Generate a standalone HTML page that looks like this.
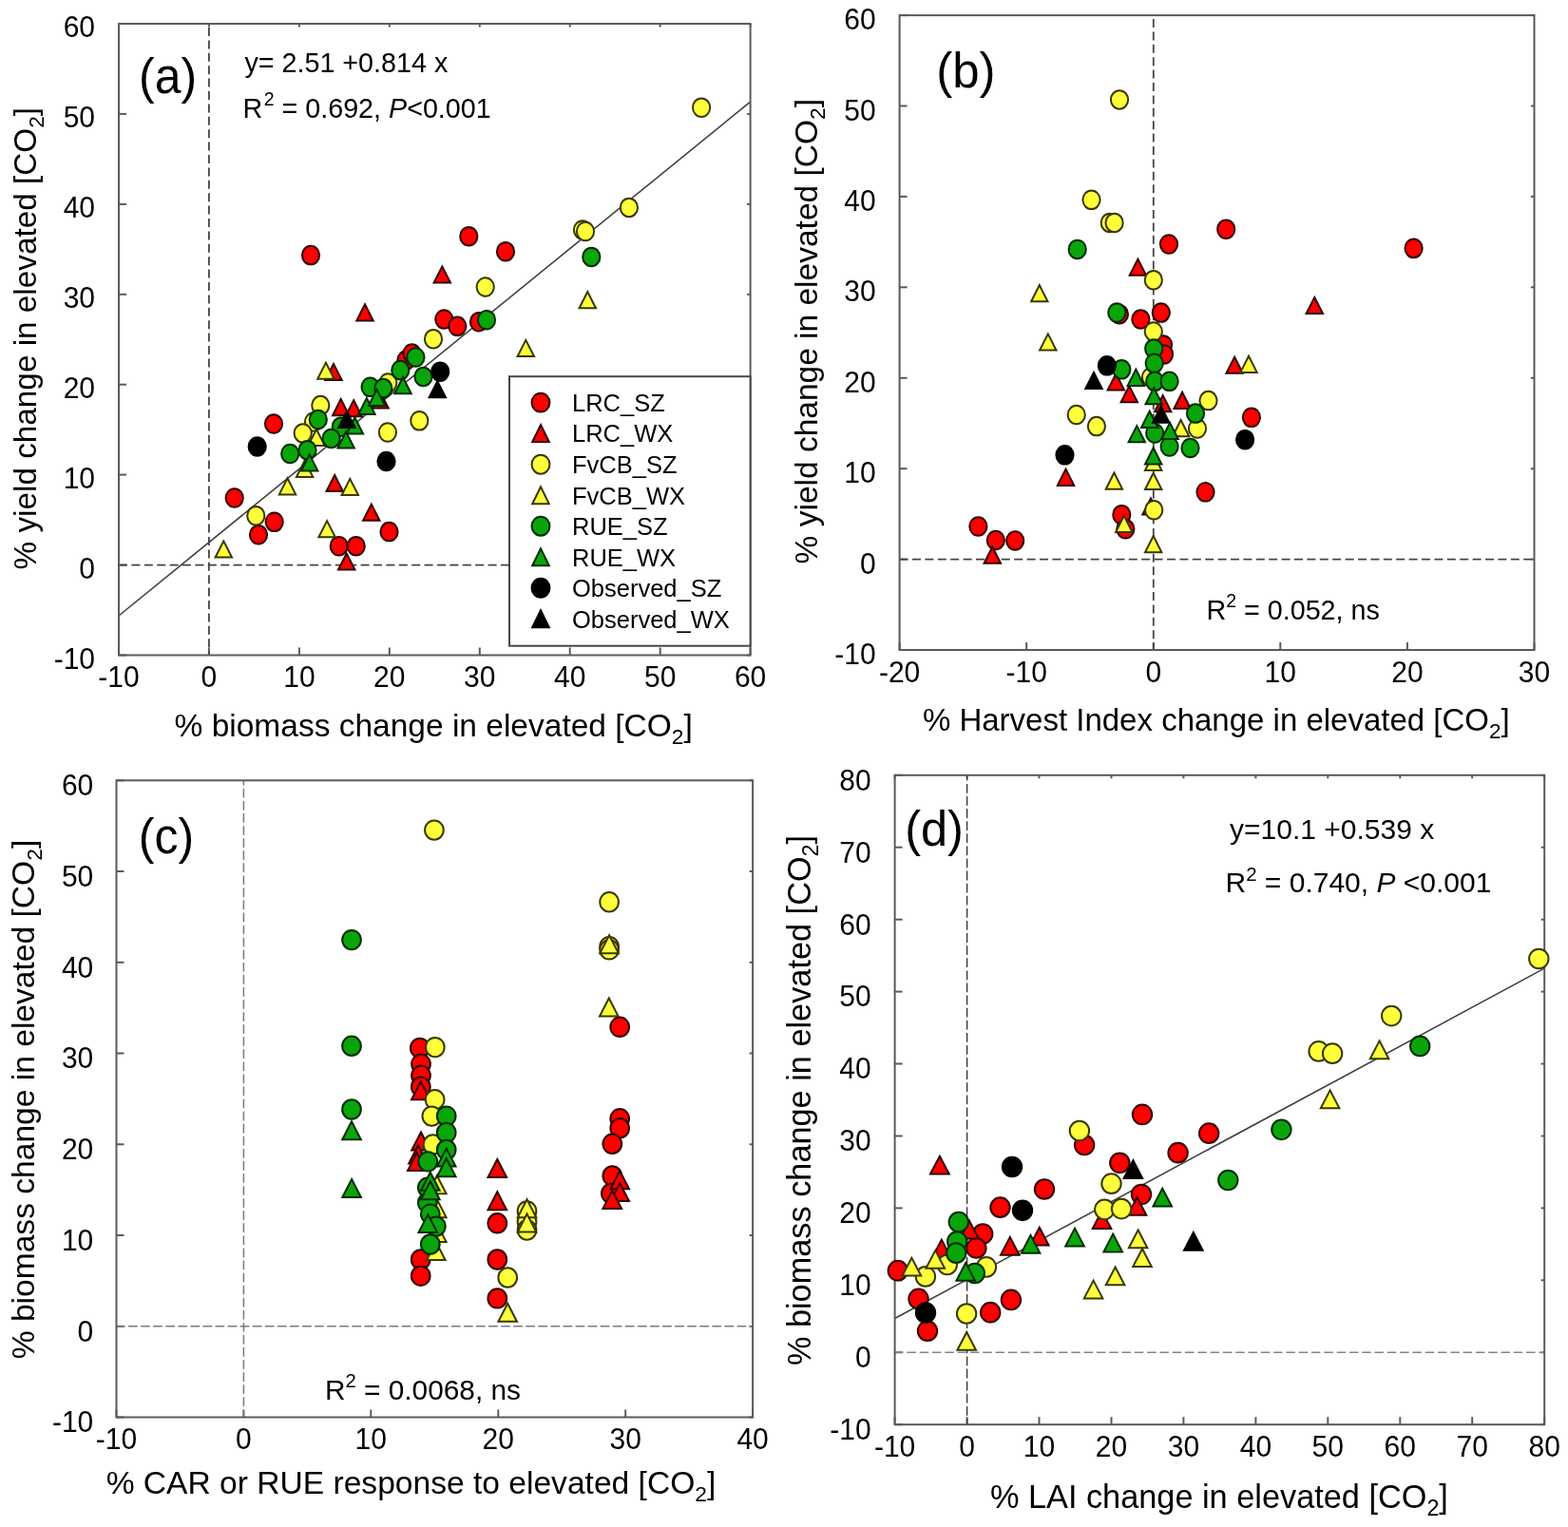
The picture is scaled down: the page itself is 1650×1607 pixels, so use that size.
<!DOCTYPE html>
<html><head><meta charset="utf-8"><title>Figure</title>
<style>
html,body{margin:0;padding:0;background:#fff;}
svg{display:block;}
text{font-family:"Liberation Sans",Arial,sans-serif;fill:#000;}
.tk{font-size:30px;}
.ti{font-size:33px;}
.sub{font-size:0.68em;}
.sup{font-size:0.68em;}
.an{font-size:28.7px;}
.an2{font-size:30.0px;}
.lg{font-size:25.5px;}
.pl{font-size:50px;}
.fr{stroke:#5a5a5a;stroke-width:2;}
.ds{stroke:#444;stroke-width:1.8;stroke-dasharray:9 4.4;}
.rg{stroke:#404040;stroke-width:1.6;}
</style></head><body>
<svg width="1650" height="1607" viewBox="0 0 1650 1607">
<rect width="1650" height="1607" fill="#fff"/>
<line x1="125.0" y1="689.5" x2="125.0" y2="681.5" class="fr"/>
<line x1="125.0" y1="25.0" x2="125.0" y2="28.5" class="fr"/>
<text transform="translate(125.0,723.0) scale(1,1.075)" class="tk" text-anchor="middle">-10</text>
<line x1="219.9" y1="689.5" x2="219.9" y2="681.5" class="fr"/>
<line x1="219.9" y1="25.0" x2="219.9" y2="28.5" class="fr"/>
<text transform="translate(219.9,723.0) scale(1,1.075)" class="tk" text-anchor="middle">0</text>
<line x1="314.9" y1="689.5" x2="314.9" y2="681.5" class="fr"/>
<line x1="314.9" y1="25.0" x2="314.9" y2="28.5" class="fr"/>
<text transform="translate(314.9,723.0) scale(1,1.075)" class="tk" text-anchor="middle">10</text>
<line x1="409.8" y1="689.5" x2="409.8" y2="681.5" class="fr"/>
<line x1="409.8" y1="25.0" x2="409.8" y2="28.5" class="fr"/>
<text transform="translate(409.8,723.0) scale(1,1.075)" class="tk" text-anchor="middle">20</text>
<line x1="504.8" y1="689.5" x2="504.8" y2="681.5" class="fr"/>
<line x1="504.8" y1="25.0" x2="504.8" y2="28.5" class="fr"/>
<text transform="translate(504.8,723.0) scale(1,1.075)" class="tk" text-anchor="middle">30</text>
<line x1="599.7" y1="689.5" x2="599.7" y2="681.5" class="fr"/>
<line x1="599.7" y1="25.0" x2="599.7" y2="28.5" class="fr"/>
<text transform="translate(599.7,723.0) scale(1,1.075)" class="tk" text-anchor="middle">40</text>
<line x1="694.7" y1="689.5" x2="694.7" y2="681.5" class="fr"/>
<line x1="694.7" y1="25.0" x2="694.7" y2="28.5" class="fr"/>
<text transform="translate(694.7,723.0) scale(1,1.075)" class="tk" text-anchor="middle">50</text>
<line x1="789.6" y1="689.5" x2="789.6" y2="681.5" class="fr"/>
<line x1="789.6" y1="25.0" x2="789.6" y2="28.5" class="fr"/>
<text transform="translate(789.6,723.0) scale(1,1.075)" class="tk" text-anchor="middle">60</text>
<line x1="125.0" y1="689.5" x2="133.0" y2="689.5" class="fr"/>
<line x1="789.6" y1="689.5" x2="786.1" y2="689.5" class="fr"/>
<text transform="translate(100.0,703.8) scale(1,1.075)" class="tk" text-anchor="end">-10</text>
<line x1="125.0" y1="594.6" x2="133.0" y2="594.6" class="fr"/>
<line x1="789.6" y1="594.6" x2="786.1" y2="594.6" class="fr"/>
<text transform="translate(100.0,608.9) scale(1,1.075)" class="tk" text-anchor="end">0</text>
<line x1="125.0" y1="499.6" x2="133.0" y2="499.6" class="fr"/>
<line x1="789.6" y1="499.6" x2="786.1" y2="499.6" class="fr"/>
<text transform="translate(100.0,513.9) scale(1,1.075)" class="tk" text-anchor="end">10</text>
<line x1="125.0" y1="404.7" x2="133.0" y2="404.7" class="fr"/>
<line x1="789.6" y1="404.7" x2="786.1" y2="404.7" class="fr"/>
<text transform="translate(100.0,419.0) scale(1,1.075)" class="tk" text-anchor="end">20</text>
<line x1="125.0" y1="309.8" x2="133.0" y2="309.8" class="fr"/>
<line x1="789.6" y1="309.8" x2="786.1" y2="309.8" class="fr"/>
<text transform="translate(100.0,324.1) scale(1,1.075)" class="tk" text-anchor="end">30</text>
<line x1="125.0" y1="214.9" x2="133.0" y2="214.9" class="fr"/>
<line x1="789.6" y1="214.9" x2="786.1" y2="214.9" class="fr"/>
<text transform="translate(100.0,229.2) scale(1,1.075)" class="tk" text-anchor="end">40</text>
<line x1="125.0" y1="119.9" x2="133.0" y2="119.9" class="fr"/>
<line x1="789.6" y1="119.9" x2="786.1" y2="119.9" class="fr"/>
<text transform="translate(100.0,134.2) scale(1,1.075)" class="tk" text-anchor="end">50</text>
<line x1="125.0" y1="25.0" x2="133.0" y2="25.0" class="fr"/>
<line x1="789.6" y1="25.0" x2="786.1" y2="25.0" class="fr"/>
<text transform="translate(100.0,39.3) scale(1,1.075)" class="tk" text-anchor="end">60</text>
<line x1="946.6" y1="684.0" x2="946.6" y2="676.0" class="fr"/>
<text transform="translate(946.6,717.5) scale(1,1.075)" class="tk" text-anchor="middle">-20</text>
<line x1="1080.2" y1="684.0" x2="1080.2" y2="676.0" class="fr"/>
<text transform="translate(1080.2,717.5) scale(1,1.075)" class="tk" text-anchor="middle">-10</text>
<line x1="1213.8" y1="684.0" x2="1213.8" y2="676.0" class="fr"/>
<text transform="translate(1213.8,717.5) scale(1,1.075)" class="tk" text-anchor="middle">0</text>
<line x1="1347.3" y1="684.0" x2="1347.3" y2="676.0" class="fr"/>
<text transform="translate(1347.3,717.5) scale(1,1.075)" class="tk" text-anchor="middle">10</text>
<line x1="1480.9" y1="684.0" x2="1480.9" y2="676.0" class="fr"/>
<text transform="translate(1480.9,717.5) scale(1,1.075)" class="tk" text-anchor="middle">20</text>
<line x1="1614.5" y1="684.0" x2="1614.5" y2="676.0" class="fr"/>
<text transform="translate(1614.5,717.5) scale(1,1.075)" class="tk" text-anchor="middle">30</text>
<line x1="946.6" y1="684.0" x2="954.6" y2="684.0" class="fr"/>
<line x1="1614.5" y1="684.0" x2="1611.0" y2="684.0" class="fr"/>
<text transform="translate(921.6,699.0) scale(1,1.075)" class="tk" text-anchor="end">-10</text>
<line x1="946.6" y1="588.6" x2="954.6" y2="588.6" class="fr"/>
<line x1="1614.5" y1="588.6" x2="1611.0" y2="588.6" class="fr"/>
<text transform="translate(921.6,603.6) scale(1,1.075)" class="tk" text-anchor="end">0</text>
<line x1="946.6" y1="493.2" x2="954.6" y2="493.2" class="fr"/>
<line x1="1614.5" y1="493.2" x2="1611.0" y2="493.2" class="fr"/>
<text transform="translate(921.6,508.2) scale(1,1.075)" class="tk" text-anchor="end">10</text>
<line x1="946.6" y1="397.8" x2="954.6" y2="397.8" class="fr"/>
<line x1="1614.5" y1="397.8" x2="1611.0" y2="397.8" class="fr"/>
<text transform="translate(921.6,412.8) scale(1,1.075)" class="tk" text-anchor="end">20</text>
<line x1="946.6" y1="302.3" x2="954.6" y2="302.3" class="fr"/>
<line x1="1614.5" y1="302.3" x2="1611.0" y2="302.3" class="fr"/>
<text transform="translate(921.6,317.3) scale(1,1.075)" class="tk" text-anchor="end">30</text>
<line x1="946.6" y1="206.9" x2="954.6" y2="206.9" class="fr"/>
<line x1="1614.5" y1="206.9" x2="1611.0" y2="206.9" class="fr"/>
<text transform="translate(921.6,221.9) scale(1,1.075)" class="tk" text-anchor="end">40</text>
<line x1="946.6" y1="111.5" x2="954.6" y2="111.5" class="fr"/>
<line x1="1614.5" y1="111.5" x2="1611.0" y2="111.5" class="fr"/>
<text transform="translate(921.6,126.5) scale(1,1.075)" class="tk" text-anchor="end">50</text>
<line x1="946.6" y1="16.1" x2="954.6" y2="16.1" class="fr"/>
<line x1="1614.5" y1="16.1" x2="1611.0" y2="16.1" class="fr"/>
<text transform="translate(921.6,31.1) scale(1,1.075)" class="tk" text-anchor="end">60</text>
<line x1="122.5" y1="1491.5" x2="122.5" y2="1483.5" class="fr"/>
<text transform="translate(122.5,1525.0) scale(1,1.075)" class="tk" text-anchor="middle">-10</text>
<line x1="256.4" y1="1491.5" x2="256.4" y2="1483.5" class="fr"/>
<text transform="translate(256.4,1525.0) scale(1,1.075)" class="tk" text-anchor="middle">0</text>
<line x1="390.3" y1="1491.5" x2="390.3" y2="1483.5" class="fr"/>
<text transform="translate(390.3,1525.0) scale(1,1.075)" class="tk" text-anchor="middle">10</text>
<line x1="524.3" y1="1491.5" x2="524.3" y2="1483.5" class="fr"/>
<text transform="translate(524.3,1525.0) scale(1,1.075)" class="tk" text-anchor="middle">20</text>
<line x1="658.2" y1="1491.5" x2="658.2" y2="1483.5" class="fr"/>
<text transform="translate(658.2,1525.0) scale(1,1.075)" class="tk" text-anchor="middle">30</text>
<line x1="792.1" y1="1491.5" x2="792.1" y2="1483.5" class="fr"/>
<text transform="translate(792.1,1525.0) scale(1,1.075)" class="tk" text-anchor="middle">40</text>
<line x1="122.5" y1="1491.5" x2="130.5" y2="1491.5" class="fr"/>
<line x1="792.1" y1="1491.5" x2="788.6" y2="1491.5" class="fr"/>
<text transform="translate(98.3,1507.3) scale(1,1.075)" class="tk" text-anchor="end">-10</text>
<line x1="122.5" y1="1395.8" x2="130.5" y2="1395.8" class="fr"/>
<line x1="792.1" y1="1395.8" x2="788.6" y2="1395.8" class="fr"/>
<text transform="translate(98.3,1411.6) scale(1,1.075)" class="tk" text-anchor="end">0</text>
<line x1="122.5" y1="1300.0" x2="130.5" y2="1300.0" class="fr"/>
<line x1="792.1" y1="1300.0" x2="788.6" y2="1300.0" class="fr"/>
<text transform="translate(98.3,1315.8) scale(1,1.075)" class="tk" text-anchor="end">10</text>
<line x1="122.5" y1="1204.3" x2="130.5" y2="1204.3" class="fr"/>
<line x1="792.1" y1="1204.3" x2="788.6" y2="1204.3" class="fr"/>
<text transform="translate(98.3,1220.1) scale(1,1.075)" class="tk" text-anchor="end">20</text>
<line x1="122.5" y1="1108.5" x2="130.5" y2="1108.5" class="fr"/>
<line x1="792.1" y1="1108.5" x2="788.6" y2="1108.5" class="fr"/>
<text transform="translate(98.3,1124.3) scale(1,1.075)" class="tk" text-anchor="end">30</text>
<line x1="122.5" y1="1012.8" x2="130.5" y2="1012.8" class="fr"/>
<line x1="792.1" y1="1012.8" x2="788.6" y2="1012.8" class="fr"/>
<text transform="translate(98.3,1028.6) scale(1,1.075)" class="tk" text-anchor="end">40</text>
<line x1="122.5" y1="917.0" x2="130.5" y2="917.0" class="fr"/>
<line x1="792.1" y1="917.0" x2="788.6" y2="917.0" class="fr"/>
<text transform="translate(98.3,932.8) scale(1,1.075)" class="tk" text-anchor="end">50</text>
<line x1="122.5" y1="821.3" x2="130.5" y2="821.3" class="fr"/>
<line x1="792.1" y1="821.3" x2="788.6" y2="821.3" class="fr"/>
<text transform="translate(98.3,837.1) scale(1,1.075)" class="tk" text-anchor="end">60</text>
<line x1="941.6" y1="1499.2" x2="941.6" y2="1491.2" class="fr"/>
<line x1="941.6" y1="815.8" x2="941.6" y2="819.3" class="fr"/>
<text transform="translate(941.6,1532.7) scale(1,1.075)" class="tk" text-anchor="middle">-10</text>
<line x1="1017.6" y1="1499.2" x2="1017.6" y2="1491.2" class="fr"/>
<line x1="1017.6" y1="815.8" x2="1017.6" y2="819.3" class="fr"/>
<text transform="translate(1017.6,1532.7) scale(1,1.075)" class="tk" text-anchor="middle">0</text>
<line x1="1093.5" y1="1499.2" x2="1093.5" y2="1491.2" class="fr"/>
<line x1="1093.5" y1="815.8" x2="1093.5" y2="819.3" class="fr"/>
<text transform="translate(1093.5,1532.7) scale(1,1.075)" class="tk" text-anchor="middle">10</text>
<line x1="1169.5" y1="1499.2" x2="1169.5" y2="1491.2" class="fr"/>
<line x1="1169.5" y1="815.8" x2="1169.5" y2="819.3" class="fr"/>
<text transform="translate(1169.5,1532.7) scale(1,1.075)" class="tk" text-anchor="middle">20</text>
<line x1="1245.4" y1="1499.2" x2="1245.4" y2="1491.2" class="fr"/>
<line x1="1245.4" y1="815.8" x2="1245.4" y2="819.3" class="fr"/>
<text transform="translate(1245.4,1532.7) scale(1,1.075)" class="tk" text-anchor="middle">30</text>
<line x1="1321.4" y1="1499.2" x2="1321.4" y2="1491.2" class="fr"/>
<line x1="1321.4" y1="815.8" x2="1321.4" y2="819.3" class="fr"/>
<text transform="translate(1321.4,1532.7) scale(1,1.075)" class="tk" text-anchor="middle">40</text>
<line x1="1397.3" y1="1499.2" x2="1397.3" y2="1491.2" class="fr"/>
<line x1="1397.3" y1="815.8" x2="1397.3" y2="819.3" class="fr"/>
<text transform="translate(1397.3,1532.7) scale(1,1.075)" class="tk" text-anchor="middle">50</text>
<line x1="1473.3" y1="1499.2" x2="1473.3" y2="1491.2" class="fr"/>
<line x1="1473.3" y1="815.8" x2="1473.3" y2="819.3" class="fr"/>
<text transform="translate(1473.3,1532.7) scale(1,1.075)" class="tk" text-anchor="middle">60</text>
<line x1="1549.2" y1="1499.2" x2="1549.2" y2="1491.2" class="fr"/>
<line x1="1549.2" y1="815.8" x2="1549.2" y2="819.3" class="fr"/>
<text transform="translate(1549.2,1532.7) scale(1,1.075)" class="tk" text-anchor="middle">70</text>
<line x1="1625.2" y1="1499.2" x2="1625.2" y2="1491.2" class="fr"/>
<line x1="1625.2" y1="815.8" x2="1625.2" y2="819.3" class="fr"/>
<text transform="translate(1625.2,1532.7) scale(1,1.075)" class="tk" text-anchor="middle">80</text>
<line x1="941.6" y1="1499.2" x2="949.6" y2="1499.2" class="fr"/>
<line x1="1625.2" y1="1499.2" x2="1621.7" y2="1499.2" class="fr"/>
<text transform="translate(916.6,1515.0) scale(1,1.075)" class="tk" text-anchor="end">-10</text>
<line x1="941.6" y1="1423.3" x2="949.6" y2="1423.3" class="fr"/>
<line x1="1625.2" y1="1423.3" x2="1621.7" y2="1423.3" class="fr"/>
<text transform="translate(916.6,1439.1) scale(1,1.075)" class="tk" text-anchor="end">0</text>
<line x1="941.6" y1="1347.3" x2="949.6" y2="1347.3" class="fr"/>
<line x1="1625.2" y1="1347.3" x2="1621.7" y2="1347.3" class="fr"/>
<text transform="translate(916.6,1363.1) scale(1,1.075)" class="tk" text-anchor="end">10</text>
<line x1="941.6" y1="1271.4" x2="949.6" y2="1271.4" class="fr"/>
<line x1="1625.2" y1="1271.4" x2="1621.7" y2="1271.4" class="fr"/>
<text transform="translate(916.6,1287.2) scale(1,1.075)" class="tk" text-anchor="end">20</text>
<line x1="941.6" y1="1195.5" x2="949.6" y2="1195.5" class="fr"/>
<line x1="1625.2" y1="1195.5" x2="1621.7" y2="1195.5" class="fr"/>
<text transform="translate(916.6,1211.3) scale(1,1.075)" class="tk" text-anchor="end">30</text>
<line x1="941.6" y1="1119.5" x2="949.6" y2="1119.5" class="fr"/>
<line x1="1625.2" y1="1119.5" x2="1621.7" y2="1119.5" class="fr"/>
<text transform="translate(916.6,1135.3) scale(1,1.075)" class="tk" text-anchor="end">40</text>
<line x1="941.6" y1="1043.6" x2="949.6" y2="1043.6" class="fr"/>
<line x1="1625.2" y1="1043.6" x2="1621.7" y2="1043.6" class="fr"/>
<text transform="translate(916.6,1059.4) scale(1,1.075)" class="tk" text-anchor="end">50</text>
<line x1="941.6" y1="967.7" x2="949.6" y2="967.7" class="fr"/>
<line x1="1625.2" y1="967.7" x2="1621.7" y2="967.7" class="fr"/>
<text transform="translate(916.6,983.5) scale(1,1.075)" class="tk" text-anchor="end">60</text>
<line x1="941.6" y1="891.7" x2="949.6" y2="891.7" class="fr"/>
<line x1="1625.2" y1="891.7" x2="1621.7" y2="891.7" class="fr"/>
<text transform="translate(916.6,907.5) scale(1,1.075)" class="tk" text-anchor="end">70</text>
<line x1="941.6" y1="815.8" x2="949.6" y2="815.8" class="fr"/>
<line x1="1625.2" y1="815.8" x2="1621.7" y2="815.8" class="fr"/>
<text transform="translate(916.6,831.6) scale(1,1.075)" class="tk" text-anchor="end">80</text>
<line x1="219.9" y1="25.0" x2="219.9" y2="689.5" stroke="#444" stroke-width="1.8" stroke-dasharray="9 4.4" stroke-dashoffset="-4.0"/>
<line x1="125.0" y1="594.6" x2="789.6" y2="594.6" stroke="#444" stroke-width="1.8" stroke-dasharray="9 4.4" stroke-dashoffset="0"/>
<line x1="1213.8" y1="16.1" x2="1213.8" y2="684.0" stroke="#444" stroke-width="1.8" stroke-dasharray="9 4.4" stroke-dashoffset="-3.9"/>
<line x1="946.6" y1="588.6" x2="1614.5" y2="588.6" stroke="#444" stroke-width="1.8" stroke-dasharray="9 4.4" stroke-dashoffset="0"/>
<line x1="256.4" y1="821.3" x2="256.4" y2="1491.5" stroke="#7a7a7a" stroke-width="1.5" stroke-dasharray="9.7 3.37" stroke-dashoffset="4.47"/>
<line x1="122.5" y1="1395.8" x2="792.1" y2="1395.8" stroke="#7a7a7a" stroke-width="1.5" stroke-dasharray="9.7 3.37" stroke-dashoffset="0.5"/>
<line x1="1017.6" y1="815.8" x2="1017.6" y2="1499.2" stroke="#3c3c3c" stroke-width="1.5" stroke-dasharray="9.8 3.3" stroke-dashoffset="4.0"/>
<line x1="941.6" y1="1423.3" x2="1625.2" y2="1423.3" stroke="#858585" stroke-width="1.6" stroke-dasharray="9.5 3.8" stroke-dashoffset="0.5"/>
<line x1="125.0" y1="648.0" x2="789.6" y2="107.1" class="rg"/>
<line x1="941.6" y1="1387.5" x2="1625.2" y2="1019.1" class="rg"/>
<rect x="125.0" y="25.0" width="664.6" height="664.5" class="fr" fill="none"/>
<rect x="946.6" y="16.1" width="667.9" height="667.9" class="fr" fill="none"/>
<rect x="122.5" y="821.3" width="669.6" height="670.2" class="fr" fill="none"/>
<rect x="941.6" y="815.8" width="683.6" height="683.4" class="fr" fill="none"/>
<ellipse cx="327.0" cy="268.6" rx="9.1" ry="9.75" fill="#ff0000" stroke="#300000" stroke-width="2.0"/>
<ellipse cx="493.3" cy="248.7" rx="9.1" ry="9.75" fill="#ff0000" stroke="#300000" stroke-width="2.0"/>
<ellipse cx="532.0" cy="264.7" rx="9.1" ry="9.75" fill="#ff0000" stroke="#300000" stroke-width="2.0"/>
<ellipse cx="467.3" cy="336.0" rx="9.1" ry="9.75" fill="#ff0000" stroke="#300000" stroke-width="2.0"/>
<ellipse cx="481.3" cy="343.3" rx="9.1" ry="9.75" fill="#ff0000" stroke="#300000" stroke-width="2.0"/>
<ellipse cx="504.0" cy="338.7" rx="9.1" ry="9.75" fill="#ff0000" stroke="#300000" stroke-width="2.0"/>
<ellipse cx="427.5" cy="379.0" rx="9.1" ry="9.75" fill="#ff0000" stroke="#300000" stroke-width="2.0"/>
<ellipse cx="433.5" cy="372.0" rx="9.1" ry="9.75" fill="#ff0000" stroke="#300000" stroke-width="2.0"/>
<ellipse cx="288.0" cy="446.0" rx="9.1" ry="9.75" fill="#ff0000" stroke="#300000" stroke-width="2.0"/>
<ellipse cx="246.7" cy="524.0" rx="9.1" ry="9.75" fill="#ff0000" stroke="#300000" stroke-width="2.0"/>
<ellipse cx="288.7" cy="549.3" rx="9.1" ry="9.75" fill="#ff0000" stroke="#300000" stroke-width="2.0"/>
<ellipse cx="272.0" cy="562.7" rx="9.1" ry="9.75" fill="#ff0000" stroke="#300000" stroke-width="2.0"/>
<ellipse cx="409.5" cy="559.6" rx="9.1" ry="9.75" fill="#ff0000" stroke="#300000" stroke-width="2.0"/>
<ellipse cx="356.7" cy="574.7" rx="9.1" ry="9.75" fill="#ff0000" stroke="#300000" stroke-width="2.0"/>
<ellipse cx="374.7" cy="574.7" rx="9.1" ry="9.75" fill="#ff0000" stroke="#300000" stroke-width="2.0"/>
<polygon points="384.0,320.3 375.3,337.5 392.7,337.5" fill="#ff0000" stroke="#300000" stroke-width="2.0"/>
<polygon points="465.3,280.4 456.6,297.6 474.0,297.6" fill="#ff0000" stroke="#300000" stroke-width="2.0"/>
<polygon points="351.0,382.9 342.3,400.1 359.7,400.1" fill="#ff0000" stroke="#300000" stroke-width="2.0"/>
<polygon points="358.7,420.0 350.0,437.2 367.4,437.2" fill="#ff0000" stroke="#300000" stroke-width="2.0"/>
<polygon points="372.2,421.1 363.5,438.3 380.9,438.3" fill="#ff0000" stroke="#300000" stroke-width="2.0"/>
<polygon points="400.0,412.4 391.3,429.6 408.7,429.6" fill="#ff0000" stroke="#300000" stroke-width="2.0"/>
<polygon points="352.2,499.9 343.5,517.1 360.9,517.1" fill="#ff0000" stroke="#300000" stroke-width="2.0"/>
<polygon points="390.8,530.6 382.1,547.8 399.5,547.8" fill="#ff0000" stroke="#300000" stroke-width="2.0"/>
<polygon points="364.7,582.4 356.0,599.6 373.4,599.6" fill="#ff0000" stroke="#300000" stroke-width="2.0"/>
<ellipse cx="738.1" cy="113.2" rx="9.1" ry="9.75" fill="#ffff3c" stroke="#383800" stroke-width="2.0"/>
<ellipse cx="661.9" cy="218.4" rx="9.1" ry="9.75" fill="#ffff3c" stroke="#383800" stroke-width="2.0"/>
<ellipse cx="613.0" cy="242.0" rx="9.1" ry="9.75" fill="#ffff3c" stroke="#383800" stroke-width="2.0"/>
<ellipse cx="616.0" cy="243.5" rx="9.1" ry="9.75" fill="#ffff3c" stroke="#383800" stroke-width="2.0"/>
<ellipse cx="510.7" cy="302.0" rx="9.1" ry="9.75" fill="#ffff3c" stroke="#383800" stroke-width="2.0"/>
<ellipse cx="456.0" cy="356.7" rx="9.1" ry="9.75" fill="#ffff3c" stroke="#383800" stroke-width="2.0"/>
<ellipse cx="408.3" cy="403.0" rx="9.1" ry="9.75" fill="#ffff3c" stroke="#383800" stroke-width="2.0"/>
<ellipse cx="337.3" cy="426.6" rx="9.1" ry="9.75" fill="#ffff3c" stroke="#383800" stroke-width="2.0"/>
<ellipse cx="330.0" cy="444.0" rx="9.1" ry="9.75" fill="#ffff3c" stroke="#383800" stroke-width="2.0"/>
<ellipse cx="318.7" cy="455.9" rx="9.1" ry="9.75" fill="#ffff3c" stroke="#383800" stroke-width="2.0"/>
<ellipse cx="441.3" cy="442.8" rx="9.1" ry="9.75" fill="#ffff3c" stroke="#383800" stroke-width="2.0"/>
<ellipse cx="407.9" cy="455.0" rx="9.1" ry="9.75" fill="#ffff3c" stroke="#383800" stroke-width="2.0"/>
<ellipse cx="269.3" cy="542.7" rx="9.1" ry="9.75" fill="#ffff3c" stroke="#383800" stroke-width="2.0"/>
<polygon points="618.3,307.0 609.6,324.2 627.0,324.2" fill="#ffff3c" stroke="#383800" stroke-width="2.0"/>
<polygon points="553.3,357.9 544.6,375.1 562.0,375.1" fill="#ffff3c" stroke="#383800" stroke-width="2.0"/>
<polygon points="342.9,381.6 334.2,398.8 351.6,398.8" fill="#ffff3c" stroke="#383800" stroke-width="2.0"/>
<polygon points="333.0,451.7 324.3,468.9 341.7,468.9" fill="#ffff3c" stroke="#383800" stroke-width="2.0"/>
<polygon points="320.6,484.8 311.9,502.0 329.3,502.0" fill="#ffff3c" stroke="#383800" stroke-width="2.0"/>
<polygon points="302.5,503.2 293.8,520.4 311.2,520.4" fill="#ffff3c" stroke="#383800" stroke-width="2.0"/>
<polygon points="368.3,503.9 359.6,521.1 377.0,521.1" fill="#ffff3c" stroke="#383800" stroke-width="2.0"/>
<polygon points="344.1,548.1 335.4,565.3 352.8,565.3" fill="#ffff3c" stroke="#383800" stroke-width="2.0"/>
<polygon points="235.3,569.4 226.6,586.6 244.0,586.6" fill="#ffff3c" stroke="#383800" stroke-width="2.0"/>
<ellipse cx="622.3" cy="270.4" rx="9.1" ry="9.75" fill="#0aa50a" stroke="#002c00" stroke-width="2.0"/>
<ellipse cx="512.0" cy="336.7" rx="9.1" ry="9.75" fill="#0aa50a" stroke="#002c00" stroke-width="2.0"/>
<ellipse cx="437.4" cy="376.0" rx="9.1" ry="9.75" fill="#0aa50a" stroke="#002c00" stroke-width="2.0"/>
<ellipse cx="421.3" cy="389.6" rx="9.1" ry="9.75" fill="#0aa50a" stroke="#002c00" stroke-width="2.0"/>
<ellipse cx="445.5" cy="396.4" rx="9.1" ry="9.75" fill="#0aa50a" stroke="#002c00" stroke-width="2.0"/>
<ellipse cx="389.6" cy="407.3" rx="9.1" ry="9.75" fill="#0aa50a" stroke="#002c00" stroke-width="2.0"/>
<ellipse cx="403.3" cy="408.6" rx="9.1" ry="9.75" fill="#0aa50a" stroke="#002c00" stroke-width="2.0"/>
<ellipse cx="334.8" cy="441.5" rx="9.1" ry="9.75" fill="#0aa50a" stroke="#002c00" stroke-width="2.0"/>
<ellipse cx="358.8" cy="449.2" rx="9.1" ry="9.75" fill="#0aa50a" stroke="#002c00" stroke-width="2.0"/>
<ellipse cx="348.6" cy="461.4" rx="9.1" ry="9.75" fill="#0aa50a" stroke="#002c00" stroke-width="2.0"/>
<ellipse cx="305.2" cy="477.5" rx="9.1" ry="9.75" fill="#0aa50a" stroke="#002c00" stroke-width="2.0"/>
<ellipse cx="323.5" cy="473.7" rx="9.1" ry="9.75" fill="#0aa50a" stroke="#002c00" stroke-width="2.0"/>
<polygon points="424.0,397.0 415.3,414.2 432.7,414.2" fill="#0aa50a" stroke="#002c00" stroke-width="2.0"/>
<polygon points="385.9,418.9 377.2,436.1 394.6,436.1" fill="#0aa50a" stroke="#002c00" stroke-width="2.0"/>
<polygon points="396.5,409.9 387.8,427.1 405.2,427.1" fill="#0aa50a" stroke="#002c00" stroke-width="2.0"/>
<polygon points="373.4,439.4 364.7,456.6 382.1,456.6" fill="#0aa50a" stroke="#002c00" stroke-width="2.0"/>
<polygon points="364.1,454.4 355.4,471.6 372.8,471.6" fill="#0aa50a" stroke="#002c00" stroke-width="2.0"/>
<polygon points="325.7,478.4 317.0,495.6 334.4,495.6" fill="#0aa50a" stroke="#002c00" stroke-width="2.0"/>
<ellipse cx="463.2" cy="391.2" rx="9.1" ry="9.75" fill="#000000" stroke="#000000" stroke-width="2.0"/>
<ellipse cx="270.7" cy="470.0" rx="9.1" ry="9.75" fill="#000000" stroke="#000000" stroke-width="2.0"/>
<ellipse cx="406.5" cy="485.5" rx="9.1" ry="9.75" fill="#000000" stroke="#000000" stroke-width="2.0"/>
<polygon points="460.3,401.1 451.6,418.3 469.0,418.3" fill="#000000" stroke="#000000" stroke-width="2.0"/>
<polygon points="364.9,432.9 356.2,450.1 373.6,450.1" fill="#000000" stroke="#000000" stroke-width="2.0"/>
<ellipse cx="1230.0" cy="257.0" rx="9.1" ry="9.75" fill="#ff0000" stroke="#300000" stroke-width="2.0"/>
<ellipse cx="1290.2" cy="241.2" rx="9.1" ry="9.75" fill="#ff0000" stroke="#300000" stroke-width="2.0"/>
<ellipse cx="1487.6" cy="261.3" rx="9.1" ry="9.75" fill="#ff0000" stroke="#300000" stroke-width="2.0"/>
<ellipse cx="1177.9" cy="330.7" rx="9.1" ry="9.75" fill="#ff0000" stroke="#300000" stroke-width="2.0"/>
<ellipse cx="1200.4" cy="336.0" rx="9.1" ry="9.75" fill="#ff0000" stroke="#300000" stroke-width="2.0"/>
<ellipse cx="1221.8" cy="329.1" rx="9.1" ry="9.75" fill="#ff0000" stroke="#300000" stroke-width="2.0"/>
<ellipse cx="1224.0" cy="362.9" rx="9.1" ry="9.75" fill="#ff0000" stroke="#300000" stroke-width="2.0"/>
<ellipse cx="1225.0" cy="372.9" rx="9.1" ry="9.75" fill="#ff0000" stroke="#300000" stroke-width="2.0"/>
<ellipse cx="1316.9" cy="439.3" rx="9.1" ry="9.75" fill="#ff0000" stroke="#300000" stroke-width="2.0"/>
<ellipse cx="1268.5" cy="517.8" rx="9.1" ry="9.75" fill="#ff0000" stroke="#300000" stroke-width="2.0"/>
<ellipse cx="1180.3" cy="541.7" rx="9.1" ry="9.75" fill="#ff0000" stroke="#300000" stroke-width="2.0"/>
<ellipse cx="1184.3" cy="556.7" rx="9.1" ry="9.75" fill="#ff0000" stroke="#300000" stroke-width="2.0"/>
<ellipse cx="1029.4" cy="554.0" rx="9.1" ry="9.75" fill="#ff0000" stroke="#300000" stroke-width="2.0"/>
<ellipse cx="1047.8" cy="568.5" rx="9.1" ry="9.75" fill="#ff0000" stroke="#300000" stroke-width="2.0"/>
<ellipse cx="1068.2" cy="569.0" rx="9.1" ry="9.75" fill="#ff0000" stroke="#300000" stroke-width="2.0"/>
<polygon points="1197.4,272.6 1188.7,289.8 1206.1,289.8" fill="#ff0000" stroke="#300000" stroke-width="2.0"/>
<polygon points="1383.3,312.9 1374.6,330.1 1392.0,330.1" fill="#ff0000" stroke="#300000" stroke-width="2.0"/>
<polygon points="1299.1,375.6 1290.4,392.8 1307.8,392.8" fill="#ff0000" stroke="#300000" stroke-width="2.0"/>
<polygon points="1174.4,393.2 1165.7,410.4 1183.1,410.4" fill="#ff0000" stroke="#300000" stroke-width="2.0"/>
<polygon points="1188.3,406.1 1179.6,423.3 1197.0,423.3" fill="#ff0000" stroke="#300000" stroke-width="2.0"/>
<polygon points="1223.7,416.1 1215.0,433.3 1232.4,433.3" fill="#ff0000" stroke="#300000" stroke-width="2.0"/>
<polygon points="1244.1,412.8 1235.4,430.0 1252.8,430.0" fill="#ff0000" stroke="#300000" stroke-width="2.0"/>
<polygon points="1121.5,493.7 1112.8,510.9 1130.2,510.9" fill="#ff0000" stroke="#300000" stroke-width="2.0"/>
<polygon points="1211.0,524.4 1202.3,541.6 1219.7,541.6" fill="#ff0000" stroke="#300000" stroke-width="2.0"/>
<polygon points="1044.3,575.5 1035.6,592.7 1053.0,592.7" fill="#ff0000" stroke="#300000" stroke-width="2.0"/>
<ellipse cx="1178.0" cy="104.9" rx="9.1" ry="9.75" fill="#ffff3c" stroke="#383800" stroke-width="2.0"/>
<ellipse cx="1148.5" cy="210.3" rx="9.1" ry="9.75" fill="#ffff3c" stroke="#383800" stroke-width="2.0"/>
<ellipse cx="1167.8" cy="234.4" rx="9.1" ry="9.75" fill="#ffff3c" stroke="#383800" stroke-width="2.0"/>
<ellipse cx="1172.6" cy="234.4" rx="9.1" ry="9.75" fill="#ffff3c" stroke="#383800" stroke-width="2.0"/>
<ellipse cx="1213.8" cy="294.7" rx="9.1" ry="9.75" fill="#ffff3c" stroke="#383800" stroke-width="2.0"/>
<ellipse cx="1213.8" cy="349.0" rx="9.1" ry="9.75" fill="#ffff3c" stroke="#383800" stroke-width="2.0"/>
<ellipse cx="1211.0" cy="397.0" rx="9.1" ry="9.75" fill="#ffff3c" stroke="#383800" stroke-width="2.0"/>
<ellipse cx="1271.5" cy="421.6" rx="9.1" ry="9.75" fill="#ffff3c" stroke="#383800" stroke-width="2.0"/>
<ellipse cx="1260.0" cy="451.0" rx="9.1" ry="9.75" fill="#ffff3c" stroke="#383800" stroke-width="2.0"/>
<ellipse cx="1132.7" cy="436.5" rx="9.1" ry="9.75" fill="#ffff3c" stroke="#383800" stroke-width="2.0"/>
<ellipse cx="1153.9" cy="448.6" rx="9.1" ry="9.75" fill="#ffff3c" stroke="#383800" stroke-width="2.0"/>
<ellipse cx="1214.2" cy="536.7" rx="9.1" ry="9.75" fill="#ffff3c" stroke="#383800" stroke-width="2.0"/>
<polygon points="1093.8,300.0 1085.1,317.2 1102.5,317.2" fill="#ffff3c" stroke="#383800" stroke-width="2.0"/>
<polygon points="1102.8,351.4 1094.1,368.6 1111.5,368.6" fill="#ffff3c" stroke="#383800" stroke-width="2.0"/>
<polygon points="1314.0,374.7 1305.3,391.9 1322.7,391.9" fill="#ffff3c" stroke="#383800" stroke-width="2.0"/>
<polygon points="1242.6,442.0 1233.9,459.2 1251.3,459.2" fill="#ffff3c" stroke="#383800" stroke-width="2.0"/>
<polygon points="1213.7,477.8 1205.0,495.0 1222.4,495.0" fill="#ffff3c" stroke="#383800" stroke-width="2.0"/>
<polygon points="1213.7,497.8 1205.0,515.0 1222.4,515.0" fill="#ffff3c" stroke="#383800" stroke-width="2.0"/>
<polygon points="1172.4,497.5 1163.7,514.7 1181.1,514.7" fill="#ffff3c" stroke="#383800" stroke-width="2.0"/>
<polygon points="1182.8,542.8 1174.1,560.0 1191.5,560.0" fill="#ffff3c" stroke="#383800" stroke-width="2.0"/>
<polygon points="1213.7,564.0 1205.0,581.2 1222.4,581.2" fill="#ffff3c" stroke="#383800" stroke-width="2.0"/>
<ellipse cx="1133.7" cy="262.4" rx="9.1" ry="9.75" fill="#0aa50a" stroke="#002c00" stroke-width="2.0"/>
<ellipse cx="1175.3" cy="329.0" rx="9.1" ry="9.75" fill="#0aa50a" stroke="#002c00" stroke-width="2.0"/>
<ellipse cx="1214.2" cy="366.9" rx="9.1" ry="9.75" fill="#0aa50a" stroke="#002c00" stroke-width="2.0"/>
<ellipse cx="1214.7" cy="382.3" rx="9.1" ry="9.75" fill="#0aa50a" stroke="#002c00" stroke-width="2.0"/>
<ellipse cx="1180.3" cy="388.8" rx="9.1" ry="9.75" fill="#0aa50a" stroke="#002c00" stroke-width="2.0"/>
<ellipse cx="1215.2" cy="401.3" rx="9.1" ry="9.75" fill="#0aa50a" stroke="#002c00" stroke-width="2.0"/>
<ellipse cx="1230.6" cy="401.3" rx="9.1" ry="9.75" fill="#0aa50a" stroke="#002c00" stroke-width="2.0"/>
<ellipse cx="1258.0" cy="435.1" rx="9.1" ry="9.75" fill="#0aa50a" stroke="#002c00" stroke-width="2.0"/>
<ellipse cx="1215.2" cy="456.0" rx="9.1" ry="9.75" fill="#0aa50a" stroke="#002c00" stroke-width="2.0"/>
<ellipse cx="1230.6" cy="470.0" rx="9.1" ry="9.75" fill="#0aa50a" stroke="#002c00" stroke-width="2.0"/>
<ellipse cx="1252.5" cy="471.5" rx="9.1" ry="9.75" fill="#0aa50a" stroke="#002c00" stroke-width="2.0"/>
<polygon points="1195.3,388.7 1186.6,405.9 1204.0,405.9" fill="#0aa50a" stroke="#002c00" stroke-width="2.0"/>
<polygon points="1214.2,408.1 1205.5,425.3 1222.9,425.3" fill="#0aa50a" stroke="#002c00" stroke-width="2.0"/>
<polygon points="1209.7,432.7 1201.0,449.9 1218.4,449.9" fill="#0aa50a" stroke="#002c00" stroke-width="2.0"/>
<polygon points="1231.1,444.9 1222.4,462.1 1239.8,462.1" fill="#0aa50a" stroke="#002c00" stroke-width="2.0"/>
<polygon points="1196.3,448.1 1187.6,465.3 1205.0,465.3" fill="#0aa50a" stroke="#002c00" stroke-width="2.0"/>
<polygon points="1213.7,471.3 1205.0,488.5 1222.4,488.5" fill="#0aa50a" stroke="#002c00" stroke-width="2.0"/>
<ellipse cx="1164.9" cy="384.8" rx="9.1" ry="9.75" fill="#000000" stroke="#000000" stroke-width="2.0"/>
<ellipse cx="1120.5" cy="478.8" rx="9.1" ry="9.75" fill="#000000" stroke="#000000" stroke-width="2.0"/>
<ellipse cx="1310.1" cy="462.7" rx="9.1" ry="9.75" fill="#000000" stroke="#000000" stroke-width="2.0"/>
<polygon points="1151.0,391.9 1142.3,409.1 1159.7,409.1" fill="#000000" stroke="#000000" stroke-width="2.0"/>
<polygon points="1221.7,427.5 1213.0,444.7 1230.4,444.7" fill="#000000" stroke="#000000" stroke-width="2.0"/>
<ellipse cx="441.8" cy="1102.9" rx="9.85" ry="10.2" fill="#ff0000" stroke="#300000" stroke-width="2.0"/>
<ellipse cx="443.0" cy="1119.8" rx="9.85" ry="10.2" fill="#ff0000" stroke="#300000" stroke-width="2.0"/>
<ellipse cx="443.0" cy="1131.8" rx="9.85" ry="10.2" fill="#ff0000" stroke="#300000" stroke-width="2.0"/>
<ellipse cx="442.8" cy="1143.7" rx="9.85" ry="10.2" fill="#ff0000" stroke="#300000" stroke-width="2.0"/>
<ellipse cx="442.7" cy="1325.5" rx="9.85" ry="10.2" fill="#ff0000" stroke="#300000" stroke-width="2.0"/>
<ellipse cx="442.7" cy="1342.7" rx="9.85" ry="10.2" fill="#ff0000" stroke="#300000" stroke-width="2.0"/>
<ellipse cx="523.3" cy="1287.3" rx="9.85" ry="10.2" fill="#ff0000" stroke="#300000" stroke-width="2.0"/>
<ellipse cx="523.3" cy="1325.5" rx="9.85" ry="10.2" fill="#ff0000" stroke="#300000" stroke-width="2.0"/>
<ellipse cx="523.3" cy="1366.4" rx="9.85" ry="10.2" fill="#ff0000" stroke="#300000" stroke-width="2.0"/>
<ellipse cx="652.2" cy="1080.8" rx="9.85" ry="10.2" fill="#ff0000" stroke="#300000" stroke-width="2.0"/>
<ellipse cx="652.2" cy="1177.3" rx="9.85" ry="10.2" fill="#ff0000" stroke="#300000" stroke-width="2.0"/>
<ellipse cx="652.2" cy="1187.3" rx="9.85" ry="10.2" fill="#ff0000" stroke="#300000" stroke-width="2.0"/>
<ellipse cx="644.3" cy="1203.8" rx="9.85" ry="10.2" fill="#ff0000" stroke="#300000" stroke-width="2.0"/>
<ellipse cx="644.3" cy="1237.4" rx="9.85" ry="10.2" fill="#ff0000" stroke="#300000" stroke-width="2.0"/>
<ellipse cx="642.9" cy="1256.0" rx="9.85" ry="10.2" fill="#ff0000" stroke="#300000" stroke-width="2.0"/>
<polygon points="442.8,1138.2 433.0,1157.2 452.6,1157.2" fill="#ff0000" stroke="#300000" stroke-width="2.0"/>
<polygon points="443.0,1191.5 433.2,1210.5 452.8,1210.5" fill="#ff0000" stroke="#300000" stroke-width="2.0"/>
<polygon points="440.0,1205.5 430.2,1224.5 449.8,1224.5" fill="#ff0000" stroke="#300000" stroke-width="2.0"/>
<polygon points="438.8,1213.0 429.0,1232.0 448.6,1232.0" fill="#ff0000" stroke="#300000" stroke-width="2.0"/>
<polygon points="523.3,1220.0 513.5,1239.0 533.1,1239.0" fill="#ff0000" stroke="#300000" stroke-width="2.0"/>
<polygon points="523.3,1254.3 513.5,1273.3 533.1,1273.3" fill="#ff0000" stroke="#300000" stroke-width="2.0"/>
<polygon points="652.2,1232.2 642.4,1251.2 662.0,1251.2" fill="#ff0000" stroke="#300000" stroke-width="2.0"/>
<polygon points="652.2,1245.1 642.4,1264.1 662.0,1264.1" fill="#ff0000" stroke="#300000" stroke-width="2.0"/>
<polygon points="644.3,1252.9 634.5,1271.9 654.1,1271.9" fill="#ff0000" stroke="#300000" stroke-width="2.0"/>
<ellipse cx="456.9" cy="873.6" rx="9.85" ry="10.2" fill="#ffff3c" stroke="#383800" stroke-width="2.0"/>
<ellipse cx="457.8" cy="1102.1" rx="9.85" ry="10.2" fill="#ffff3c" stroke="#383800" stroke-width="2.0"/>
<ellipse cx="457.6" cy="1157.2" rx="9.85" ry="10.2" fill="#ffff3c" stroke="#383800" stroke-width="2.0"/>
<ellipse cx="454.3" cy="1174.6" rx="9.85" ry="10.2" fill="#ffff3c" stroke="#383800" stroke-width="2.0"/>
<ellipse cx="455.5" cy="1204.4" rx="9.85" ry="10.2" fill="#ffff3c" stroke="#383800" stroke-width="2.0"/>
<ellipse cx="534.2" cy="1344.5" rx="9.85" ry="10.2" fill="#ffff3c" stroke="#383800" stroke-width="2.0"/>
<ellipse cx="554.5" cy="1274.5" rx="9.85" ry="10.2" fill="#ffff3c" stroke="#383800" stroke-width="2.0"/>
<ellipse cx="554.5" cy="1286.0" rx="9.85" ry="10.2" fill="#ffff3c" stroke="#383800" stroke-width="2.0"/>
<ellipse cx="554.5" cy="1294.5" rx="9.85" ry="10.2" fill="#ffff3c" stroke="#383800" stroke-width="2.0"/>
<ellipse cx="641.1" cy="949.3" rx="9.85" ry="10.2" fill="#ffff3c" stroke="#383800" stroke-width="2.0"/>
<ellipse cx="641.1" cy="996.1" rx="9.85" ry="10.2" fill="#ffff3c" stroke="#383800" stroke-width="2.0"/>
<ellipse cx="641.1" cy="999.4" rx="9.85" ry="10.2" fill="#ffff3c" stroke="#383800" stroke-width="2.0"/>
<polygon points="459.8,1237.3 450.0,1256.3 469.6,1256.3" fill="#ffff3c" stroke="#383800" stroke-width="2.0"/>
<polygon points="459.8,1262.2 450.0,1281.2 469.6,1281.2" fill="#ffff3c" stroke="#383800" stroke-width="2.0"/>
<polygon points="459.8,1288.1 450.0,1307.1 469.6,1307.1" fill="#ffff3c" stroke="#383800" stroke-width="2.0"/>
<polygon points="458.8,1307.0 449.0,1326.0 468.6,1326.0" fill="#ffff3c" stroke="#383800" stroke-width="2.0"/>
<polygon points="534.2,1371.8 524.4,1390.8 544.0,1390.8" fill="#ffff3c" stroke="#383800" stroke-width="2.0"/>
<polygon points="554.5,1262.3 544.7,1281.3 564.3,1281.3" fill="#ffff3c" stroke="#383800" stroke-width="2.0"/>
<polygon points="554.5,1277.5 544.7,1296.5 564.3,1296.5" fill="#ffff3c" stroke="#383800" stroke-width="2.0"/>
<polygon points="641.1,984.3 631.3,1003.3 650.9,1003.3" fill="#ffff3c" stroke="#383800" stroke-width="2.0"/>
<polygon points="640.8,1050.5 631.0,1069.5 650.6,1069.5" fill="#ffff3c" stroke="#383800" stroke-width="2.0"/>
<ellipse cx="370.0" cy="989.1" rx="9.85" ry="10.2" fill="#0aa50a" stroke="#002c00" stroke-width="2.0"/>
<ellipse cx="370.0" cy="1100.8" rx="9.85" ry="10.2" fill="#0aa50a" stroke="#002c00" stroke-width="2.0"/>
<ellipse cx="370.0" cy="1167.5" rx="9.85" ry="10.2" fill="#0aa50a" stroke="#002c00" stroke-width="2.0"/>
<ellipse cx="469.7" cy="1174.6" rx="9.85" ry="10.2" fill="#0aa50a" stroke="#002c00" stroke-width="2.0"/>
<ellipse cx="469.7" cy="1192.0" rx="9.85" ry="10.2" fill="#0aa50a" stroke="#002c00" stroke-width="2.0"/>
<ellipse cx="469.7" cy="1210.0" rx="9.85" ry="10.2" fill="#0aa50a" stroke="#002c00" stroke-width="2.0"/>
<ellipse cx="450.3" cy="1222.4" rx="9.85" ry="10.2" fill="#0aa50a" stroke="#002c00" stroke-width="2.0"/>
<ellipse cx="449.8" cy="1249.8" rx="9.85" ry="10.2" fill="#0aa50a" stroke="#002c00" stroke-width="2.0"/>
<ellipse cx="449.8" cy="1265.7" rx="9.85" ry="10.2" fill="#0aa50a" stroke="#002c00" stroke-width="2.0"/>
<ellipse cx="452.8" cy="1277.6" rx="9.85" ry="10.2" fill="#0aa50a" stroke="#002c00" stroke-width="2.0"/>
<ellipse cx="458.8" cy="1290.6" rx="9.85" ry="10.2" fill="#0aa50a" stroke="#002c00" stroke-width="2.0"/>
<ellipse cx="452.8" cy="1309.5" rx="9.85" ry="10.2" fill="#0aa50a" stroke="#002c00" stroke-width="2.0"/>
<polygon points="370.0,1180.3 360.2,1199.3 379.8,1199.3" fill="#0aa50a" stroke="#002c00" stroke-width="2.0"/>
<polygon points="370.1,1241.0 360.3,1260.0 379.9,1260.0" fill="#0aa50a" stroke="#002c00" stroke-width="2.0"/>
<polygon points="469.7,1208.6 459.9,1227.6 479.5,1227.6" fill="#0aa50a" stroke="#002c00" stroke-width="2.0"/>
<polygon points="469.7,1219.3 459.9,1238.3 479.5,1238.3" fill="#0aa50a" stroke="#002c00" stroke-width="2.0"/>
<polygon points="452.8,1233.8 443.0,1252.8 462.6,1252.8" fill="#0aa50a" stroke="#002c00" stroke-width="2.0"/>
<polygon points="452.8,1243.2 443.0,1262.2 462.6,1262.2" fill="#0aa50a" stroke="#002c00" stroke-width="2.0"/>
<polygon points="450.3,1278.1 440.5,1297.1 460.1,1297.1" fill="#0aa50a" stroke="#002c00" stroke-width="2.0"/>
<ellipse cx="944.8" cy="1337.2" rx="10.2" ry="10.35" fill="#ff0000" stroke="#300000" stroke-width="2.0"/>
<ellipse cx="966.5" cy="1366.9" rx="10.2" ry="10.35" fill="#ff0000" stroke="#300000" stroke-width="2.0"/>
<ellipse cx="976.0" cy="1400.7" rx="10.2" ry="10.35" fill="#ff0000" stroke="#300000" stroke-width="2.0"/>
<ellipse cx="1034.2" cy="1298.6" rx="10.2" ry="10.35" fill="#ff0000" stroke="#300000" stroke-width="2.0"/>
<ellipse cx="1027.4" cy="1313.4" rx="10.2" ry="10.35" fill="#ff0000" stroke="#300000" stroke-width="2.0"/>
<ellipse cx="1052.5" cy="1270.7" rx="10.2" ry="10.35" fill="#ff0000" stroke="#300000" stroke-width="2.0"/>
<ellipse cx="1099.0" cy="1251.5" rx="10.2" ry="10.35" fill="#ff0000" stroke="#300000" stroke-width="2.0"/>
<ellipse cx="1042.2" cy="1381.2" rx="10.2" ry="10.35" fill="#ff0000" stroke="#300000" stroke-width="2.0"/>
<ellipse cx="1063.9" cy="1367.9" rx="10.2" ry="10.35" fill="#ff0000" stroke="#300000" stroke-width="2.0"/>
<ellipse cx="1141.1" cy="1205.0" rx="10.2" ry="10.35" fill="#ff0000" stroke="#300000" stroke-width="2.0"/>
<ellipse cx="1178.3" cy="1223.8" rx="10.2" ry="10.35" fill="#ff0000" stroke="#300000" stroke-width="2.0"/>
<ellipse cx="1201.0" cy="1257.0" rx="10.2" ry="10.35" fill="#ff0000" stroke="#300000" stroke-width="2.0"/>
<ellipse cx="1202.0" cy="1172.9" rx="10.2" ry="10.35" fill="#ff0000" stroke="#300000" stroke-width="2.0"/>
<ellipse cx="1239.6" cy="1213.2" rx="10.2" ry="10.35" fill="#ff0000" stroke="#300000" stroke-width="2.0"/>
<ellipse cx="1272.2" cy="1192.7" rx="10.2" ry="10.35" fill="#ff0000" stroke="#300000" stroke-width="2.0"/>
<polygon points="988.9,1216.8 979.0,1235.6 998.8,1235.6" fill="#ff0000" stroke="#300000" stroke-width="2.0"/>
<polygon points="1020.0,1284.6 1010.1,1303.4 1029.8,1303.4" fill="#ff0000" stroke="#300000" stroke-width="2.0"/>
<polygon points="990.8,1304.6 980.9,1323.4 1000.6,1323.4" fill="#ff0000" stroke="#300000" stroke-width="2.0"/>
<polygon points="1062.8,1301.9 1053.0,1320.7 1072.6,1320.7" fill="#ff0000" stroke="#300000" stroke-width="2.0"/>
<polygon points="1093.8,1291.7 1084.0,1310.5 1103.6,1310.5" fill="#ff0000" stroke="#300000" stroke-width="2.0"/>
<polygon points="1196.5,1260.0 1186.7,1278.8 1206.3,1278.8" fill="#ff0000" stroke="#300000" stroke-width="2.0"/>
<polygon points="1159.5,1274.3 1149.7,1293.1 1169.3,1293.1" fill="#ff0000" stroke="#300000" stroke-width="2.0"/>
<ellipse cx="973.9" cy="1343.4" rx="10.2" ry="10.35" fill="#ffff3c" stroke="#383800" stroke-width="2.0"/>
<ellipse cx="996.8" cy="1330.9" rx="10.2" ry="10.35" fill="#ffff3c" stroke="#383800" stroke-width="2.0"/>
<ellipse cx="1037.9" cy="1333.4" rx="10.2" ry="10.35" fill="#ffff3c" stroke="#383800" stroke-width="2.0"/>
<ellipse cx="1017.1" cy="1382.5" rx="10.2" ry="10.35" fill="#ffff3c" stroke="#383800" stroke-width="2.0"/>
<ellipse cx="1135.9" cy="1190.0" rx="10.2" ry="10.35" fill="#ffff3c" stroke="#383800" stroke-width="2.0"/>
<ellipse cx="1169.5" cy="1245.7" rx="10.2" ry="10.35" fill="#ffff3c" stroke="#383800" stroke-width="2.0"/>
<ellipse cx="1162.3" cy="1272.8" rx="10.2" ry="10.35" fill="#ffff3c" stroke="#383800" stroke-width="2.0"/>
<ellipse cx="1180.1" cy="1272.1" rx="10.2" ry="10.35" fill="#ffff3c" stroke="#383800" stroke-width="2.0"/>
<ellipse cx="1387.6" cy="1106.4" rx="10.2" ry="10.35" fill="#ffff3c" stroke="#383800" stroke-width="2.0"/>
<ellipse cx="1402.1" cy="1108.7" rx="10.2" ry="10.35" fill="#ffff3c" stroke="#383800" stroke-width="2.0"/>
<ellipse cx="1464.2" cy="1069.1" rx="10.2" ry="10.35" fill="#ffff3c" stroke="#383800" stroke-width="2.0"/>
<ellipse cx="1619.3" cy="1009.0" rx="10.2" ry="10.35" fill="#ffff3c" stroke="#383800" stroke-width="2.0"/>
<polygon points="959.4,1323.8 949.5,1342.6 969.2,1342.6" fill="#ffff3c" stroke="#383800" stroke-width="2.0"/>
<polygon points="984.3,1315.9 974.4,1334.7 994.1,1334.7" fill="#ffff3c" stroke="#383800" stroke-width="2.0"/>
<polygon points="1017.2,1402.0 1007.4,1420.8 1027.0,1420.8" fill="#ffff3c" stroke="#383800" stroke-width="2.0"/>
<polygon points="1197.6,1294.5 1187.8,1313.3 1207.4,1313.3" fill="#ffff3c" stroke="#383800" stroke-width="2.0"/>
<polygon points="1202.0,1314.2 1192.2,1333.0 1211.8,1333.0" fill="#ffff3c" stroke="#383800" stroke-width="2.0"/>
<polygon points="1173.6,1333.5 1163.8,1352.3 1183.4,1352.3" fill="#ffff3c" stroke="#383800" stroke-width="2.0"/>
<polygon points="1150.6,1347.6 1140.8,1366.4 1160.4,1366.4" fill="#ffff3c" stroke="#383800" stroke-width="2.0"/>
<polygon points="1399.6,1147.4 1389.8,1166.2 1409.4,1166.2" fill="#ffff3c" stroke="#383800" stroke-width="2.0"/>
<polygon points="1451.6,1095.4 1441.8,1114.2 1461.4,1114.2" fill="#ffff3c" stroke="#383800" stroke-width="2.0"/>
<ellipse cx="1008.8" cy="1286.0" rx="10.2" ry="10.35" fill="#0aa50a" stroke="#002c00" stroke-width="2.0"/>
<ellipse cx="1007.2" cy="1306.6" rx="10.2" ry="10.35" fill="#0aa50a" stroke="#002c00" stroke-width="2.0"/>
<ellipse cx="1006.2" cy="1318.7" rx="10.2" ry="10.35" fill="#0aa50a" stroke="#002c00" stroke-width="2.0"/>
<ellipse cx="1025.8" cy="1340.0" rx="10.2" ry="10.35" fill="#0aa50a" stroke="#002c00" stroke-width="2.0"/>
<ellipse cx="1292.3" cy="1242.0" rx="10.2" ry="10.35" fill="#0aa50a" stroke="#002c00" stroke-width="2.0"/>
<ellipse cx="1348.4" cy="1188.8" rx="10.2" ry="10.35" fill="#0aa50a" stroke="#002c00" stroke-width="2.0"/>
<ellipse cx="1494.2" cy="1100.9" rx="10.2" ry="10.35" fill="#0aa50a" stroke="#002c00" stroke-width="2.0"/>
<polygon points="1016.2,1328.9 1006.4,1347.7 1026.0,1347.7" fill="#0aa50a" stroke="#002c00" stroke-width="2.0"/>
<polygon points="1084.5,1299.9 1074.7,1318.7 1094.3,1318.7" fill="#0aa50a" stroke="#002c00" stroke-width="2.0"/>
<polygon points="1131.0,1292.6 1121.2,1311.4 1140.8,1311.4" fill="#0aa50a" stroke="#002c00" stroke-width="2.0"/>
<polygon points="1171.2,1298.6 1161.4,1317.4 1181.0,1317.4" fill="#0aa50a" stroke="#002c00" stroke-width="2.0"/>
<polygon points="1223.2,1250.7 1213.4,1269.5 1233.0,1269.5" fill="#0aa50a" stroke="#002c00" stroke-width="2.0"/>
<ellipse cx="974.0" cy="1381.5" rx="10.2" ry="10.35" fill="#000000" stroke="#000000" stroke-width="2.0"/>
<ellipse cx="1065.0" cy="1228.0" rx="10.2" ry="10.35" fill="#000000" stroke="#000000" stroke-width="2.0"/>
<ellipse cx="1076.0" cy="1273.8" rx="10.2" ry="10.35" fill="#000000" stroke="#000000" stroke-width="2.0"/>
<polygon points="1192.4,1221.2 1182.6,1240.0 1202.2,1240.0" fill="#000000" stroke="#000000" stroke-width="2.0"/>
<polygon points="1255.8,1296.9 1246.0,1315.7 1265.6,1315.7" fill="#000000" stroke="#000000" stroke-width="2.0"/>
<rect x="536" y="396.2" width="253.6" height="283.5" fill="#fff" stroke="#474747" stroke-width="2"/>
<ellipse cx="569.0" cy="423.6" rx="9.45" ry="9.95" fill="#ff0000" stroke="#300000" stroke-width="2.0"/>
<text x="602" y="432.9" class="lg">LRC_SZ</text>
<polygon points="569.0,447.1 560.2,465.1 577.8,465.1" fill="#ff0000" stroke="#300000" stroke-width="2.0"/>
<text x="602" y="465.4" class="lg">LRC_WX</text>
<ellipse cx="569.0" cy="488.7" rx="9.45" ry="9.95" fill="#ffff3c" stroke="#383800" stroke-width="2.0"/>
<text x="602" y="498.0" class="lg">FvCB_SZ</text>
<polygon points="569.0,512.2 560.2,530.2 577.8,530.2" fill="#ffff3c" stroke="#383800" stroke-width="2.0"/>
<text x="602" y="530.5" class="lg">FvCB_WX</text>
<ellipse cx="569.0" cy="553.7" rx="9.45" ry="9.95" fill="#0aa50a" stroke="#002c00" stroke-width="2.0"/>
<text x="602" y="563.0" class="lg">RUE_SZ</text>
<polygon points="569.0,577.2 560.2,595.2 577.8,595.2" fill="#0aa50a" stroke="#002c00" stroke-width="2.0"/>
<text x="602" y="595.5" class="lg">RUE_WX</text>
<ellipse cx="569.0" cy="618.8" rx="9.45" ry="9.95" fill="#000000" stroke="#000000" stroke-width="2.0"/>
<text x="602" y="628.1" class="lg">Observed_SZ</text>
<polygon points="569.0,642.3 560.2,660.3 577.8,660.3" fill="#000000" stroke="#000000" stroke-width="2.0"/>
<text x="602" y="660.6" class="lg">Observed_WX</text>
<text transform="translate(146,97.6) scale(1,1.04)" class="pl">(a)</text>
<text transform="translate(985.2,92.1) scale(1.02,1.04)" class="pl">(b)</text>
<text transform="translate(145.8,898.4) scale(1,1.04)" class="pl">(c)</text>
<text transform="translate(952.2,890.3) scale(1.01,1.04)" class="pl">(d)</text>
<text x="257.5" y="76.3" class="an">y= 2.51 +0.814 x</text>
<text x="255.5" y="123.8" class="an">R<tspan class="sup" dx="1.5" dy="-13">2</tspan><tspan dy="13"> = 0.692, </tspan><tspan font-style="italic">P</tspan>&lt;0.001</text>
<text x="1269.5" y="651.6" class="an">R<tspan class="sup" dy="-13">2</tspan><tspan dy="13"> = 0.052, ns</tspan></text>
<text x="342" y="1472.6" class="an" style="font-size:29.8px">R<tspan class="sup" dy="-13">2</tspan><tspan dy="13"> = 0.0068, ns</tspan></text>
<text x="1294" y="883.4" class="an2">y=10.1 +0.539 x</text>
<text x="1289.5" y="938.6" class="an2">R<tspan class="sup" dy="-11.5">2</tspan><tspan dy="11.5"> = 0.740, </tspan><tspan font-style="italic">P</tspan> &lt;0.001</text>
<text x="456.2" y="774.5" class="ti" text-anchor="middle" style="font-size:33.5px">% biomass change in elevated [CO<tspan class="sub" dy="8">2</tspan><tspan dy="-8">]</tspan></text>
<text x="1279.8" y="769.1" class="ti" text-anchor="middle" style="font-size:33px">% Harvest Index change in elevated [CO<tspan class="sub" dy="8">2</tspan><tspan dy="-8">]</tspan></text>
<text x="432.5" y="1571.8" class="ti" text-anchor="middle" style="font-size:33.6px">% CAR or RUE response to elevated [CO<tspan class="sub" dy="8">2</tspan><tspan dy="-8">]</tspan></text>
<text x="1282.9" y="1586.8" class="ti" text-anchor="middle" style="font-size:34.3px">% LAI change in elevated [CO<tspan class="sub" dy="8">2</tspan><tspan dy="-8">]</tspan></text>
<text transform="translate(38.1,356.2) rotate(-90)" class="ti" text-anchor="middle" style="font-size:33.3px">% yield change in elevated [CO<tspan class="sub" dy="8">2</tspan><tspan dy="-8">]</tspan></text>
<text transform="translate(859.8,348.7) rotate(-90)" class="ti" text-anchor="middle" style="font-size:33.5px">% yield change in elevated [CO<tspan class="sub" dy="8">2</tspan><tspan dy="-8">]</tspan></text>
<text transform="translate(35.5,1157) rotate(-90)" class="ti" text-anchor="middle" style="font-size:33.6px">% biomass change in elevated [CO<tspan class="sub" dy="8">2</tspan><tspan dy="-8">]</tspan></text>
<text transform="translate(852.8,1158) rotate(-90)" class="ti" text-anchor="middle" style="font-size:34.3px">% biomass change in elevated [CO<tspan class="sub" dy="8">2</tspan><tspan dy="-8">]</tspan></text>
</svg>
</body></html>
